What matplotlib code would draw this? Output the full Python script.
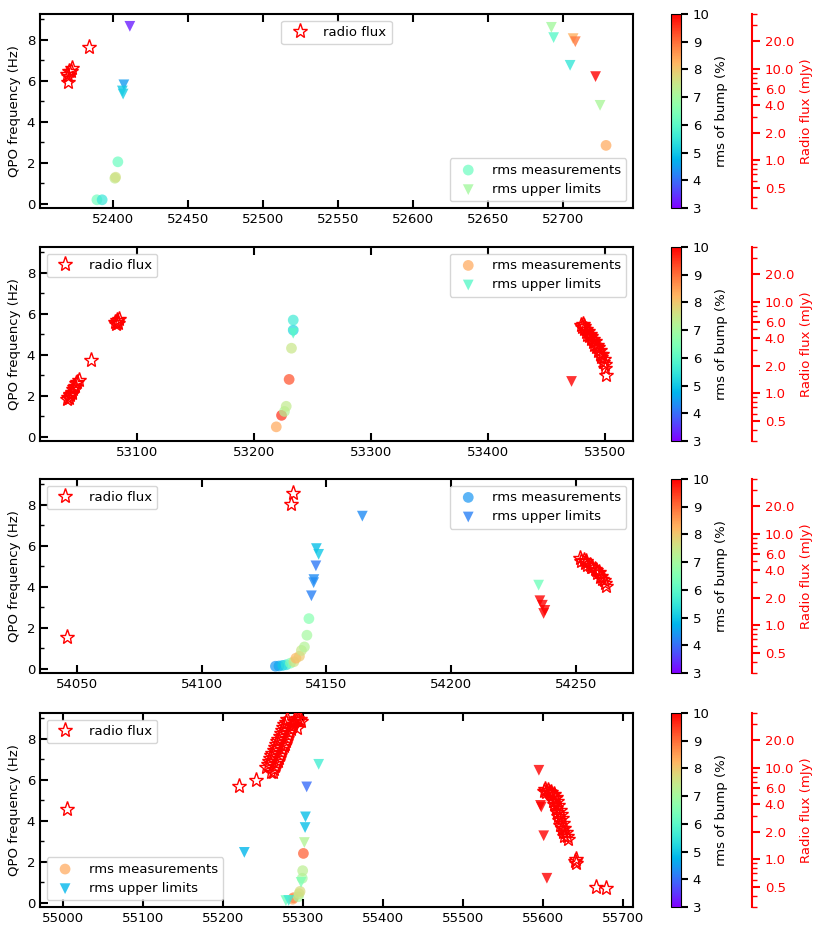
import numpy as np
import matplotlib.pyplot as plt
from matplotlib.colors import Normalize
from matplotlib.cm import ScalarMappable
from matplotlib.ticker import FixedLocator, FormatStrFormatter, LogLocator, NullFormatter, MultipleLocator

plt.rcParams['font.size'] = 9.5

# ---------------- panel 1 ----------------
p1_meas_mjd = [52403.0, 52389.0, 52392.5, 52401.0, 52401.5, 52729.0]
p1_meas_freq = [2.05, 0.20, 0.20, 1.25, 1.30, 2.85]
p1_meas_rms = [6.2, 6.3, 5.5, 7.4, 7.6, 8.4]

p1_ul_mjd = [52692.5, 52411.0, 52407.0, 52406.0, 52406.5, 52694.0, 52707.0, 52708.5, 52705.0, 52722.0, 52725.0]
p1_ul_freq = [8.60, 8.65, 5.80, 5.50, 5.35, 8.10, 8.05, 7.90, 6.75, 6.20, 4.80]
p1_ul_rms = [7.0, 3.3, 4.5, 5.0, 5.1, 6.0, 8.3, 8.9, 5.5, 10.0, 7.1]

p1_radio_mjd = [52369.5, 52369.0, 52370.0, 52370.5, 52371.5, 52372.5, 52383.5]
p1_radio_flux = [7.2, 8.9, 8.4, 9.6, 9.4, 10.3, 17.4]

# ---------------- panel 2 ----------------
p2_meas_mjd = [53219.0, 53223.5, 53226.0, 53227.5, 53230.0, 53232.0, 53233.5, 53233.5]
p2_meas_freq = [0.49, 1.05, 1.24, 1.49, 2.80, 4.32, 5.20, 5.69]
p2_meas_rms = [8.4, 9.6, 7.2, 7.4, 9.3, 7.5, 5.2, 5.6]

p2_ul_mjd = [53233.5, 53471.5]
p2_ul_freq = [5.05, 2.70]
p2_ul_rms = [6.0, 10.0]

p2_radio_mjd = [53040.0, 53041.0, 53041.5, 53042.5, 53043.0, 53044.0, 53044.5, 53045.5, 53046.0,
                53047.0, 53048.0, 53049.0, 53050.0, 53060.3,
                53081.5, 53082.0, 53082.5, 53083.0, 53083.5, 53084.5,
                53479.5, 53480.5, 53481.0, 53482.0, 53482.5, 53483.5, 53484.0, 53485.0, 53485.5, 53486.5,
                53487.0, 53488.0, 53488.5, 53489.5, 53490.0, 53491.0, 53491.5, 53492.5, 53493.0, 53494.0,
                53494.5, 53495.5, 53496.0, 53497.0, 53497.5, 53498.5, 53499.0, 53500.0, 53500.5, 53501.0]
p2_radio_flux = [0.86, 0.92, 0.88, 0.98, 0.95, 1.04, 1.01, 1.10, 1.16,
                 1.21, 1.28, 1.34, 1.40, 2.29,
                 6.0, 5.8, 6.1, 6.3, 5.9, 6.5,
                 5.6, 5.3, 5.8, 5.0, 5.4, 4.7, 5.1, 4.4, 4.8, 4.2,
                 4.5, 3.9, 4.2, 3.6, 3.9, 3.4, 3.7, 3.2, 3.4, 2.9,
                 3.2, 2.7, 3.0, 2.5, 2.7, 2.2, 2.4, 1.9, 2.1, 1.6]

# ---------------- panel 3 ----------------
p3_meas_mjd = [54129.6, 54131.0, 54132.5, 54133.9, 54135.6, 54137.0, 54137.8, 54139.2, 54140.0, 54141.2, 54142.2, 54143.0]
p3_meas_freq = [0.13, 0.14, 0.17, 0.20, 0.28, 0.35, 0.52, 0.62, 0.90, 1.07, 1.64, 2.45]
p3_meas_rms = [4.4, 4.6, 5.0, 5.4, 6.5, 7.6, 8.2, 8.0, 7.5, 7.2, 7.0, 6.6]

p3_ul_mjd = [54144.0, 54144.9, 54145.0, 54145.8, 54146.0, 54146.9, 54164.4, 54235.0, 54235.5, 54236.5, 54237.5, 54237.0]
p3_ul_freq = [3.56, 4.20, 4.35, 5.02, 5.86, 5.58, 7.44, 4.08, 3.32, 3.10, 2.85, 2.70]
p3_ul_rms = [4.2, 4.3, 4.3, 4.1, 4.9, 5.0, 4.3, 6.3, 10.0, 10.0, 10.0, 10.0]

p3_radio_mjd = [54046.1, 54136.5, 54135.8,
                54251.5, 54252.0, 54253.0, 54253.5, 54254.0, 54254.5, 54255.5, 54256.0, 54256.5, 54257.5,
                54258.0, 54258.5, 54259.0, 54259.5, 54260.0, 54260.5, 54261.0, 54261.5, 54262.0]
p3_radio_flux = [0.75, 28.2, 21.3,
                 5.5, 5.1, 5.2, 4.8, 5.0, 4.6, 4.6, 4.3, 4.4, 4.1,
                 4.0, 3.7, 3.8, 3.4, 3.5, 3.2, 3.1, 2.9, 2.7]

# ---------------- panel 4 ----------------
p4_meas_mjd = [55287.0, 55288.0, 55294.0, 55295.0, 55296.2, 55299.0, 55299.5, 55300.4]
p4_meas_freq = [0.18, 0.25, 0.30, 0.45, 0.56, 1.20, 1.57, 2.41]
p4_meas_rms = [8.4, 8.8, 7.0, 7.5, 7.7, 7.0, 7.3, 9.2]

p4_ul_mjd = [55226.5, 55319.5, 55304.5, 55303.0, 55302.5, 55301.6, 55297.5, 55278.5, 55282.0,
             55595.0, 55597.0, 55598.0, 55601.0, 55605.0]
p4_ul_freq = [2.46, 6.75, 5.65, 4.19, 3.67, 2.94, 1.00, 0.11, 0.12,
              6.46, 4.75, 4.67, 3.27, 1.20]
p4_ul_rms = [4.8, 5.7, 4.0, 4.9, 4.9, 7.2, 6.5, 6.3, 5.6,
             10.0, 10.0, 10.0, 10.0, 10.0]

p4_radio_mjd = [55004.6, 55219.4, 55241.0, 55259.5,
                55254.0, 55255.5, 55257.0, 55258.5, 55260.0, 55261.5, 55263.0, 55264.5, 55266.0,
                55267.5, 55269.0, 55270.5, 55272.0, 55273.5, 55275.0, 55276.5, 55278.0, 55279.5,
                55262.0, 55263.5, 55265.0, 55266.5, 55268.0, 55269.5, 55271.0, 55272.5, 55274.0, 55275.5,
                55277.0, 55278.5, 55280.0, 55281.5, 55283.0, 55284.5, 55286.0, 55287.5, 55289.0, 55290.5,
                55292.0, 55294.0, 55296.0, 55297.5, 55293.0,
                55601.0, 55603.0, 55604.5, 55606.0, 55607.5, 55609.0, 55610.5, 55612.0, 55613.5, 55615.0, 55616.5,
                55613.0, 55614.5, 55616.0, 55617.5, 55619.0, 55620.5, 55622.0, 55623.5, 55625.0, 55626.5,
                55618.0, 55619.5, 55621.0, 55622.5, 55624.0, 55625.5, 55627.0, 55628.5, 55630.0, 55631.5,
                55640.5, 55641.0, 55642.0, 55666.7, 55679.0]
p4_radio_flux = [3.53, 6.3, 7.47, 9.1,
                 10.3, 11.1, 11.9, 12.8, 13.7, 14.7, 15.8, 17.0, 18.2,
                 19.6, 21.0, 22.6, 24.2, 26.0, 27.9, 30.0, 32.2, 34.0,
                 9.0, 9.7, 10.4, 11.2, 12.0, 12.9, 13.9, 14.9, 16.0, 17.2,
                 18.5, 19.9, 21.4, 23.0, 24.7, 26.5, 28.5, 30.6, 32.8, 34.5,
                 35.0, 33.5, 34.5, 32.5, 27.5,
                 5.6, 5.9, 5.4, 5.7, 5.5, 5.3, 5.5, 5.0, 5.2, 4.7, 4.8,
                 4.4, 4.0, 3.6, 3.3, 3.0, 2.7, 2.4, 2.2, 2.0, 1.8,
                 4.3, 3.9, 3.5, 3.1, 2.8, 2.5, 2.2, 2.0, 1.8, 1.65,
                 0.95, 1.0, 0.9, 0.50, 0.49]

panels = [
    (p1_meas_mjd, p1_meas_freq, p1_meas_rms, p1_ul_mjd, p1_ul_freq, p1_ul_rms,
     p1_radio_mjd, p1_radio_flux, 'upper center', 'lower right'),
    (p2_meas_mjd, p2_meas_freq, p2_meas_rms, p2_ul_mjd, p2_ul_freq, p2_ul_rms,
     p2_radio_mjd, p2_radio_flux, 'upper left', 'upper right'),
    (p3_meas_mjd, p3_meas_freq, p3_meas_rms, p3_ul_mjd, p3_ul_freq, p3_ul_rms,
     p3_radio_mjd, p3_radio_flux, 'upper left', 'upper right'),
    (p4_meas_mjd, p4_meas_freq, p4_meas_rms, p4_ul_mjd, p4_ul_freq, p4_ul_rms,
     p4_radio_mjd, p4_radio_flux, 'upper left', 'lower left'),
]

W, H = 822, 934
panel_tops = [14, 247, 479, 713]
panel_h = 194

norm = Normalize(vmin=3, vmax=10)
cmap = plt.get_cmap('rainbow')

fig = plt.figure(figsize=(W / 100, H / 100), dpi=100)

for top, (m_x, m_y, m_c, u_x, u_y, u_c, r_x, r_f, loc_radio, loc_rms) in zip(panel_tops, panels):
    bottom = 1 - (top + panel_h) / H
    ax = fig.add_axes([40 / W, bottom, 593 / W, panel_h / H])
    cax = fig.add_axes([671 / W, bottom, 10 / W, panel_h / H])

    ax.scatter(m_x, m_y, c=m_c, cmap=cmap, norm=norm, marker='o', s=60,
               alpha=0.7, edgecolors='none', label='rms measurements')
    ax.scatter(u_x, u_y, c=u_c, cmap=cmap, norm=norm, marker='v', s=60,
               alpha=0.8, edgecolors='none', label='rms upper limits')
    ax.set_ylim(-0.2, 9.25)
    ax.set_ylabel('QPO frequency (Hz)')
    ax.yaxis.set_major_locator(MultipleLocator(2))
    ax.yaxis.set_minor_locator(MultipleLocator(1))
    ax.tick_params(which='major', direction='in', top=True, right=False, length=6, width=1.5)
    ax.tick_params(which='minor', direction='in', length=3, width=1)
    ax.tick_params(axis='x', which='minor', bottom=False, top=False)
    for sp in ax.spines.values():
        sp.set_linewidth(1.5)
    ax.legend(loc=loc_rms)

    ax2 = ax.twinx()
    ax2.plot(r_x, r_f, linestyle='none', marker='*', ms=11, mfc='none', mec='red',
             mew=1.0, label='radio flux')
    ax2.set_yscale('log')
    ax2.set_ylim(0.3, 40)
    ax2.spines['right'].set_position(('axes', 1.2))
    ax2.spines['right'].set_color('red')
    ax2.spines['right'].set_linewidth(1.5)
    for s in ['top', 'left', 'bottom']:
        ax2.spines[s].set_visible(False)
    ax2.yaxis.set_major_locator(FixedLocator([0.5, 1, 2, 4, 6, 10, 20]))
    ax2.yaxis.set_major_formatter(FormatStrFormatter('%.1f'))
    ax2.yaxis.set_minor_locator(LogLocator(subs=np.arange(2, 10)))
    ax2.yaxis.set_minor_formatter(NullFormatter())
    ax2.tick_params(which='major', direction='out', colors='red', length=6, width=1.5)
    ax2.tick_params(which='minor', direction='out', colors='red', length=3.5, width=1)
    ax2.set_ylabel('Radio flux (mJy)', color='red')
    ax2.legend(loc=loc_radio)

    cb = fig.colorbar(ScalarMappable(norm=norm, cmap=cmap), cax=cax)
    cb.set_ticks(range(3, 11))
    cb.set_label('rms of bump (%)')
    cb.ax.tick_params(length=5, width=1.5)

fig.savefig('out.png', dpi=100)
